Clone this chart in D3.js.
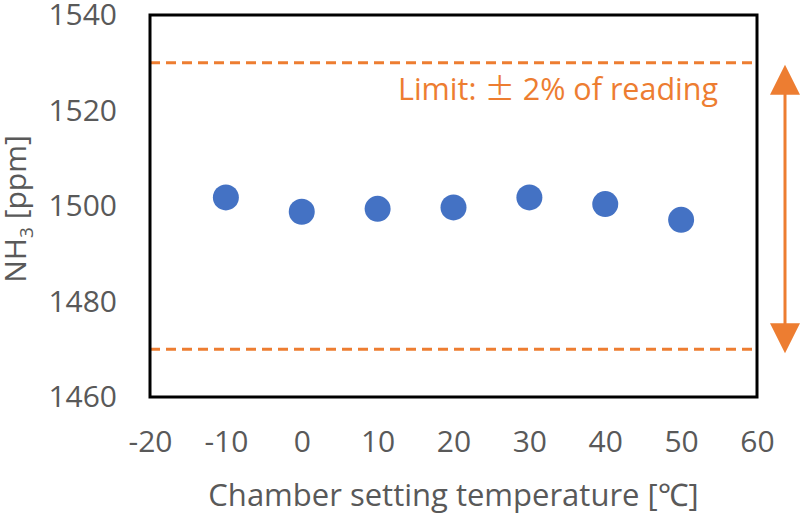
<!DOCTYPE html>
<html>
<head>
<meta charset="utf-8">
<script src="https://cdn.jsdelivr.net/npm/d3@7"></script>
<style>
  body { margin: 0; background: #fff; }
  text { font-family: "Open Sans", "Noto Sans", sans-serif; }
</style>
</head>
<body>
<svg width="805" height="516"></svg>
<script>
// data
const temps = [-10, 0, 10, 20, 30, 40, 50];
const nh3 = [1501.8, 1498.8, 1499.4, 1499.7, 1501.8, 1500.4, 1497.1];
const limits = [1530, 1470];
const xTicks = [-20, -10, 0, 10, 20, 30, 40, 50, 60];
const yTicks = [1460, 1480, 1500, 1520, 1540];

const svg = d3.select("svg");
const margin = { left: 150, right: 48, top: 15, bottom: 119 };
const width = +svg.attr("width");
const height = +svg.attr("height");

const x = d3.scaleLinear().domain([-20, 60]).range([margin.left, width - margin.right]);
const y = d3.scaleLinear().domain([1460, 1540]).range([height - margin.bottom, margin.top]);

const orange = "#ED7D31";
const blue = "#4472C4";
const grey = "#595959";

// y tick labels
svg.append("g")
    .attr("transform", `translate(${margin.left},0)`)
    .call(d3.axisLeft(y).tickValues(yTicks).tickFormat(d => String(d)).tickSize(0).tickPadding(33))
    .call(g => g.select(".domain").remove())
    .call(g => g.selectAll("text")
        .attr("fill", grey)
        .attr("font-size", 30)
        .attr("font-family", "Open Sans"));

// x tick labels
svg.append("g")
    .attr("transform", `translate(0,${y(1460)})`)
    .call(d3.axisBottom(x).tickValues(xTicks).tickFormat(d => String(d)).tickSize(0).tickPadding(34))
    .call(g => g.select(".domain").remove())
    .call(g => g.selectAll("text")
        .attr("fill", grey)
        .attr("font-size", 30)
        .attr("font-family", "Open Sans"));

// limit lines
svg.append("g").selectAll("line")
    .data(limits)
    .enter().append("line")
    .attr("x1", x(-20))
    .attr("x2", x(60))
    .attr("y1", d => y(d))
    .attr("y2", d => y(d))
    .attr("stroke", orange)
    .attr("stroke-width", 3)
    .attr("stroke-dasharray", "10,6");

// plot frame
svg.append("rect")
    .attr("x", x(-20))
    .attr("y", y(1540))
    .attr("width", x(60) - x(-20))
    .attr("height", y(1460) - y(1540))
    .attr("fill", "none")
    .attr("stroke", "#000")
    .attr("stroke-width", 3);

// points
svg.append("g").selectAll("circle")
    .data(temps.map((t, i) => ({ t: t, v: nh3[i] })))
    .enter().append("circle")
    .attr("cx", d => x(d.t))
    .attr("cy", d => y(d.v))
    .attr("r", 13)
    .attr("fill", blue);

// limit label
const lab = svg.append("text")
    .attr("x", 398)
    .attr("y", 100)
    .attr("fill", orange)
    .attr("font-size", 30.5);
lab.append("tspan").text("Limit:  ");
lab.append("tspan").attr("font-family", "Noto Sans CJK JP").text("±");
lab.append("tspan").text(" 2% of reading");

// double arrow
const ax = 785;
svg.append("line")
    .attr("x1", ax).attr("x2", ax)
    .attr("y1", y(1530) + 25).attr("y2", y(1470) - 25)
    .attr("stroke", orange)
    .attr("stroke-width", 3);
const head = 15;
svg.append("path")
    .attr("d", `M${ax},${y(1530) + 2}l${head},30h${-2 * head}z`)
    .attr("fill", orange);
svg.append("path")
    .attr("d", `M${ax},${y(1470) + 4}l${head},-30h${-2 * head}z`)
    .attr("fill", orange);

// axis titles
svg.append("text")
    .attr("x", (x(-20) + x(60)) / 2)
    .attr("y", 506)
    .attr("text-anchor", "middle")
    .attr("fill", grey)
    .attr("font-size", 31)
    .text("Chamber setting temperature [℃]");

const yt = svg.append("text")
    .attr("transform", `translate(26,209) rotate(-90)`)
    .attr("text-anchor", "middle")
    .attr("fill", grey)
    .attr("font-size", 30);
yt.append("tspan").text("NH");
yt.append("tspan").attr("font-size", 19).attr("dy", 7).text("3");
yt.append("tspan").attr("dy", -7).text(" [ppm]");
</script>
</body>
</html>
